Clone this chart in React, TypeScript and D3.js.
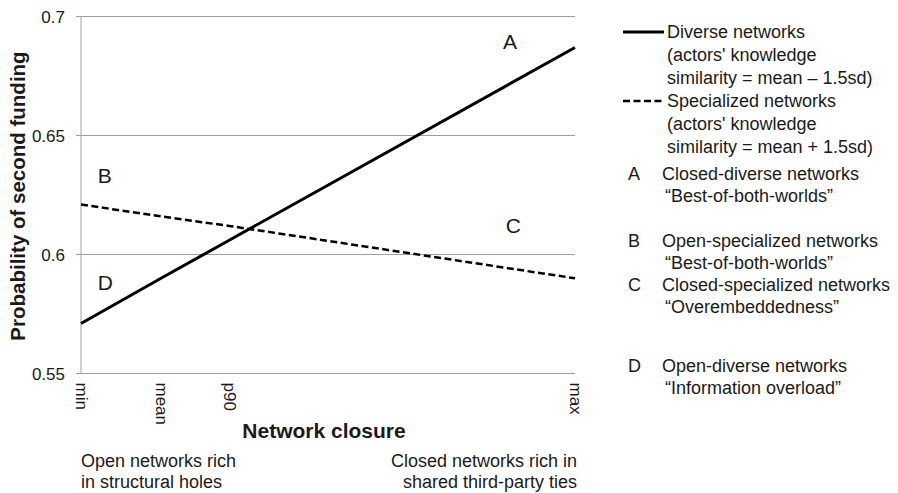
import React, { useRef, useEffect } from 'react';
import * as d3 from 'd3';

const closureTicks: string[] = ['min', 'mean', 'p90', 'max'];
const closurePos: number[] = [0, 0.162, 0.3, 1];
const diverse: number[] = [0.571, 0.590, 0.606, 0.687];
const specialized: number[] = [0.621, 0.616, 0.612, 0.590];
const yTicks: number[] = [0.55, 0.6, 0.65, 0.7];

const cornerLabels = [
    { key: 'A', x: 0.854, y: 0.6865 },
    { key: 'B', x: 0.034, y: 0.630 },
    { key: 'C', x: 0.86, y: 0.609 },
    { key: 'D', x: 0.034, y: 0.585 },
];

const seriesLegend = [
    { lines: ['Diverse networks', "(actors' knowledge", 'similarity = mean – 1.5sd)'], dash: null },
    { lines: ['Specialized networks', "(actors' knowledge", 'similarity = mean + 1.5sd)'], dash: '7,3.5' },
];

const quadrantLegend = [
    { key: 'A', title: 'Closed-diverse networks', sub: '“Best-of-both-worlds”' },
    { key: 'B', title: 'Open-specialized networks', sub: '“Best-of-both-worlds”' },
    { key: 'C', title: 'Closed-specialized networks', sub: '“Overembeddedness”' },
    { key: 'D', title: 'Open-diverse networks', sub: '“Information overload”' },
];

const width = 898;
const height = 493;
const font = '"Liberation Sans", Arial, sans-serif';

function App() {
    const ref = useRef(null);

    useEffect(() => {
        if (!ref.current) return;
        const svg: any = d3.select(ref.current);
        svg.selectAll('*').remove();
        svg.attr('font-family', font).attr('fill', '#1a1a1a');

        const x = d3.scaleLinear().domain([0, 1]).range([81, 575]);
        const y = d3.scaleLinear().domain([0.55, 0.7]).range([373.5, 16.5]);

        // gridlines
        svg.append('g').selectAll('line')
            .data(yTicks)
            .join('line')
            .attr('x1', 76).attr('x2', 575)
            .attr('y1', (d: number) => y(d)).attr('y2', (d: number) => y(d))
            .attr('stroke', '#a0a0a0').attr('stroke-width', 1);

        svg.append('line')
            .attr('x1', x(0)).attr('x2', x(0))
            .attr('y1', y(0.7)).attr('y2', y(0.55))
            .attr('stroke', '#a0a0a0');

        svg.append('g').selectAll('text')
            .data(yTicks)
            .join('text')
            .attr('x', 65).attr('y', (d: number) => y(d) + 6)
            .attr('text-anchor', 'end')
            .attr('font-size', 17)
            .text((d: number) => d3.format('')(d));

        svg.append('g').selectAll('text')
            .data(closureTicks)
            .join('text')
            .attr('transform', (_: string, i: number) => `translate(${x(closurePos[i]) - 5},${y(0.55) + 9}) rotate(90)`)
            .attr('font-size', 17)
            .text((d: string) => d);

        const line = d3.line<number>()
            .x((_, i) => x(closurePos[i]))
            .y((d) => y(d));

        svg.append('path').datum(diverse)
            .attr('d', line).attr('fill', 'none')
            .attr('stroke', '#000').attr('stroke-width', 3);

        svg.append('path').datum(specialized)
            .attr('d', line).attr('fill', 'none')
            .attr('stroke', '#000').attr('stroke-width', 2.5)
            .attr('stroke-dasharray', '7,3.5');

        svg.append('g').selectAll('text')
            .data(cornerLabels)
            .join('text')
            .attr('x', (d: any) => x(d.x)).attr('y', (d: any) => y(d.y))
            .attr('font-size', 21)
            .text((d: any) => d.key);

        svg.append('text')
            .attr('transform', 'translate(25,196) rotate(-90)')
            .attr('text-anchor', 'middle')
            .attr('font-size', 20.5).attr('font-weight', 'bold')
            .text('Probability of second funding');

        svg.append('text')
            .attr('x', 324).attr('y', 438)
            .attr('text-anchor', 'middle')
            .attr('font-size', 21).attr('font-weight', 'bold')
            .text('Network closure');

        const notes = svg.append('g').attr('font-size', 18);
        notes.append('text').attr('x', 81).attr('y', 467).text('Open networks rich');
        notes.append('text').attr('x', 81).attr('y', 488).text('in structural holes');
        notes.append('text').attr('x', 577).attr('y', 467).attr('text-anchor', 'end').text('Closed networks rich in');
        notes.append('text').attr('x', 577).attr('y', 488).attr('text-anchor', 'end').text('shared third-party ties');

        // series legend
        const leg = svg.append('g').attr('font-size', 18);
        seriesLegend.forEach((s, i) => {
            const top = 32 + i * 69;
            leg.append('line')
                .attr('x1', 623).attr('x2', 664)
                .attr('y1', top).attr('y2', top)
                .attr('stroke', '#000').attr('stroke-width', i === 0 ? 3 : 2.5)
                .attr('stroke-dasharray', s.dash);
            s.lines.forEach((t, j) => {
                leg.append('text')
                    .attr('x', 667).attr('y', top + 6 + j * 23)
                    .text(t);
            });
        });

        const qTop = [180, 247, 291, 372];
        quadrantLegend.forEach((q, i) => {
            leg.append('text').attr('x', 628).attr('y', qTop[i]).text(q.key);
            leg.append('text').attr('x', 662).attr('y', qTop[i]).text(q.title);
            leg.append('text').attr('x', 665).attr('y', qTop[i] + 22).text(q.sub);
        });
    }, []);

    return (
        <svg
            width={width}
            height={height}
            ref={ref}
            style={{ position: 'absolute', left: 0, top: 0, background: '#fff' }}
        />
    );
}

export default App;
